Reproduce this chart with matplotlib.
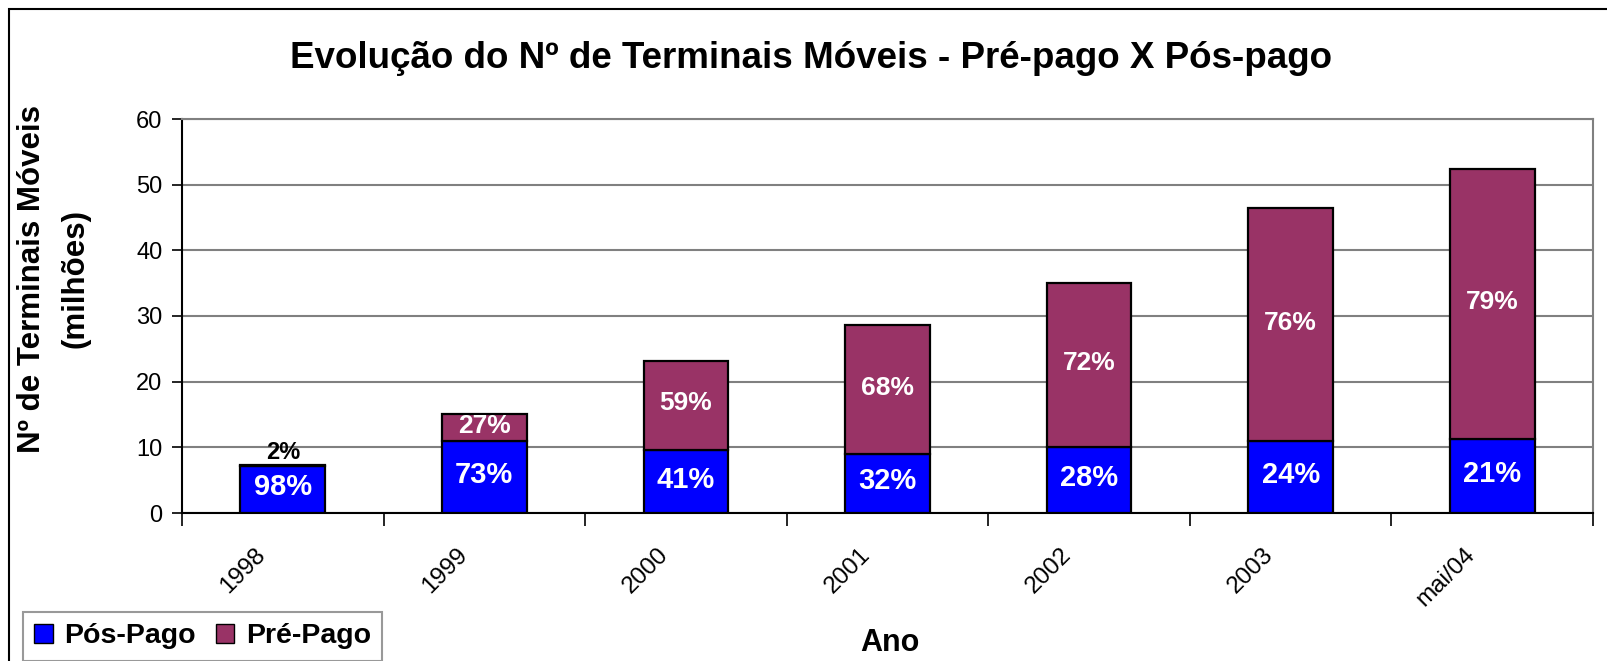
import numpy as np
import matplotlib.pyplot as plt
from matplotlib.patches import Patch, Rectangle
import matplotlib.transforms as mtransforms

plt.rcParams['font.family'] = ['Liberation Sans', 'DejaVu Sans']

# data (millions of mobile terminals)
anos = ["1998", "1999", "2000", "2001", "2002", "2003", "mai/04"]
pos_pago = [7.2, 10.9, 9.6, 9.0, 10.0, 10.9, 11.2]
pre_pago = [0.15, 4.2, 13.6, 19.6, 25.0, 35.6, 41.2]
pos_pct = ["98%", "73%", "41%", "32%", "28%", "24%", "21%"]
pre_pct = ["2%", "27%", "59%", "68%", "72%", "76%", "79%"]

COR_POS = "#0000FF"
COR_PRE = "#993366"

W, H = 1607, 661
fig = plt.figure(figsize=(W / 100, H / 100), dpi=100)
ax = fig.add_axes([182 / W, 1 - 513 / H, (1593 - 182) / W, (513 - 119) / H])

x = np.arange(len(anos))
ax.bar(x, pos_pago, 0.42, color=COR_POS, edgecolor="black", linewidth=1.6, zorder=3)
ax.bar(x, pre_pago, 0.42, bottom=pos_pago, color=COR_PRE, edgecolor="black",
       linewidth=1.6, zorder=3)

for i in range(len(anos)):
    ax.text(x[i], pos_pago[i] / 2 + 0.3, pos_pct[i], ha="center", va="center",
            color="white", fontsize=21, fontweight="bold", zorder=4)
    if i == 0:
        ax.text(x[i], pos_pago[i] + pre_pago[i] + 0.1, pre_pct[i], ha="center",
                va="bottom", color="black", fontsize=17, fontweight="bold", zorder=4)
    else:
        ax.text(x[i], pos_pago[i] + pre_pago[i] / 2 + 0.3, pre_pct[i], ha="center",
                va="center", color="white", fontsize=19, fontweight="bold", zorder=4)

ax.set_xlim(-0.5, len(anos) - 0.5)
ax.set_ylim(0, 60)
ax.set_yticks(np.arange(0, 61, 10))
ax.yaxis.grid(True, color="#808080", linewidth=1.5, zorder=0)
ax.tick_params(axis="y", direction="out", length=7, width=1.2, pad=7, labelsize=17)

ax.set_xticks(x)
ax.set_xticklabels(anos, rotation=45, ha="right", fontsize=17.5)
ax.set_xticks(np.arange(-0.5, len(anos), 1.0), minor=True)
ax.tick_params(axis="x", which="major", length=0, pad=22)
ax.tick_params(axis="x", which="minor", direction="out", length=9, width=1.2)
offset = mtransforms.ScaledTranslation(-13 / 100, 0, fig.dpi_scale_trans)
for lbl in ax.get_xticklabels():
    lbl.set_transform(lbl.get_transform() + offset)

for s in ["left", "bottom"]:
    ax.spines[s].set_color("black")
    ax.spines[s].set_linewidth(1.5)
for s in ["top", "right"]:
    ax.spines[s].set_color("#808080")
    ax.spines[s].set_linewidth(1.5)

fig.text(811 / W, 1 - 58 / H, "Evolução do Nº de Terminais Móveis - Pré-pago X Pós-pago",
         ha="center", va="center", fontsize=26.5, fontweight="bold")
fig.text(32 / W, 1 - 279 / H, "Nº de Terminais Móveis", rotation=90,
         ha="center", va="center", fontsize=22.5, fontweight="bold")
fig.text(76 / W, 1 - 279 / H, "(milhões)", rotation=90,
         ha="center", va="center", fontsize=22.5, fontweight="bold")
fig.text(890 / W, 1 - 643 / H, "Ano", ha="center", va="center",
         fontsize=22, fontweight="bold")

handles = [Patch(facecolor=COR_POS, edgecolor="black", label="Pós-Pago"),
           Patch(facecolor=COR_PRE, edgecolor="black", label="Pré-Pago")]
leg = fig.legend(handles=handles, loc="upper left", bbox_to_anchor=(23 / W, 1 - 612 / H),
                 ncol=2, prop={"weight": "bold", "size": 20.5},
                 frameon=True, fancybox=False, borderpad=0.4,
                 handlelength=0.65, handleheight=0.65, handletextpad=0.4,
                 columnspacing=0.7, borderaxespad=0)
leg.get_frame().set_edgecolor("#808080")
leg.get_frame().set_linewidth(1.5)

fig.add_artist(Rectangle((9 / W, -0.1), 1.2, 1 - 9 / H + 0.1, transform=fig.transFigure,
                         fill=False, edgecolor="black", linewidth=1.5))

fig.savefig("out.png", dpi=100)
